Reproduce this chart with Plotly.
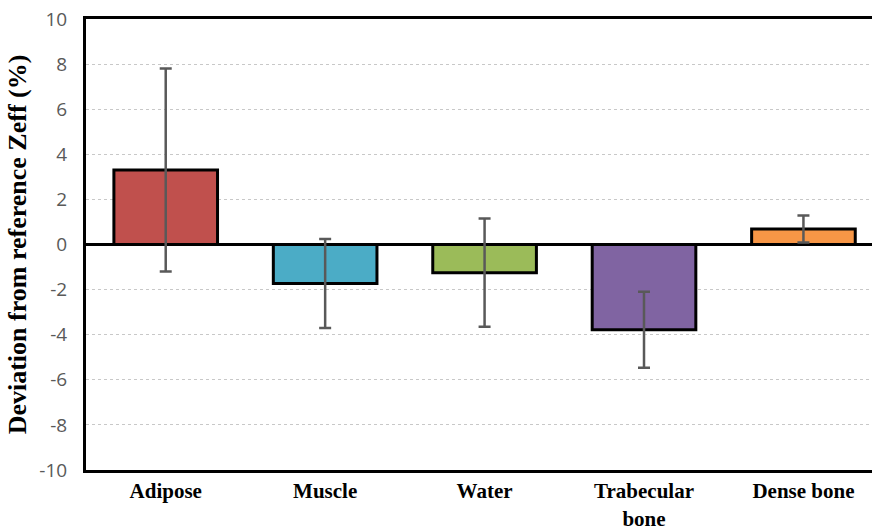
import plotly.graph_objects as go

categories = ["Adipose", "Muscle", "Water", "Trabecular<br>bone", "Dense bone"]
values = [3.3, -1.73, -1.25, -3.78, 0.69]
errors = [4.5, 1.97, 2.4, 1.69, 0.6]
colors = ["#C0504D", "#4BACC6", "#9BBB59", "#8064A2", "#F79646"]
y_ticks = [-10, -8, -6, -4, -2, 0, 2, 4, 6, 8, 10]
y_tick_labels = ["-10", "-8", "-6", "-4", "-2", "0", "2", "4", "6", "8", "10"]

fig = go.Figure()
fig.add_trace(go.Bar(
    x=list(range(len(categories))),
    y=values,
    marker=dict(color=colors, line=dict(color="black", width=3)),
    error_y=dict(type="data", array=errors, visible=True, color="#595959",
                 thickness=2.5, width=6),
    width=0.65,
))

fig.update_layout(
    width=872, height=531,
    margin=dict(l=86, r=0, t=19, b=61, autoexpand=False),
    paper_bgcolor="white", plot_bgcolor="white",
    showlegend=False,
    xaxis=dict(
        range=[-0.5, 4.43], automargin=False,
        tickmode="array", tickvals=list(range(len(categories))),
        ticktext=["<b>%s</b>" % c for c in categories],
        tickfont=dict(family="Liberation Serif", size=21, color="black"),
        showline=True, linecolor="black", linewidth=3, mirror=True,
        showgrid=False, zeroline=False, ticks="", ticklen=0,
        ticklabelstandoff=0,
    ),
    yaxis=dict(
        range=[-10, 10], automargin=False,
        tickmode="array", tickvals=y_ticks, ticktext=y_tick_labels,
        tickfont=dict(family="Open Sans", size=19, color="#595959"),
        showline=True, linecolor="black", linewidth=3,
        showgrid=True, gridcolor="#C8C8C8", gridwidth=1, griddash="dot",
        zeroline=True, zerolinecolor="black", zerolinewidth=3,
        ticks="", ticklabelstandoff=12,
        title=dict(text="<b>Deviation from reference Zeff (%)</b>",
                   font=dict(family="Liberation Serif", size=26, color="black"),
                   standoff=6),
    ),
)

fig.write_html("out.html")
